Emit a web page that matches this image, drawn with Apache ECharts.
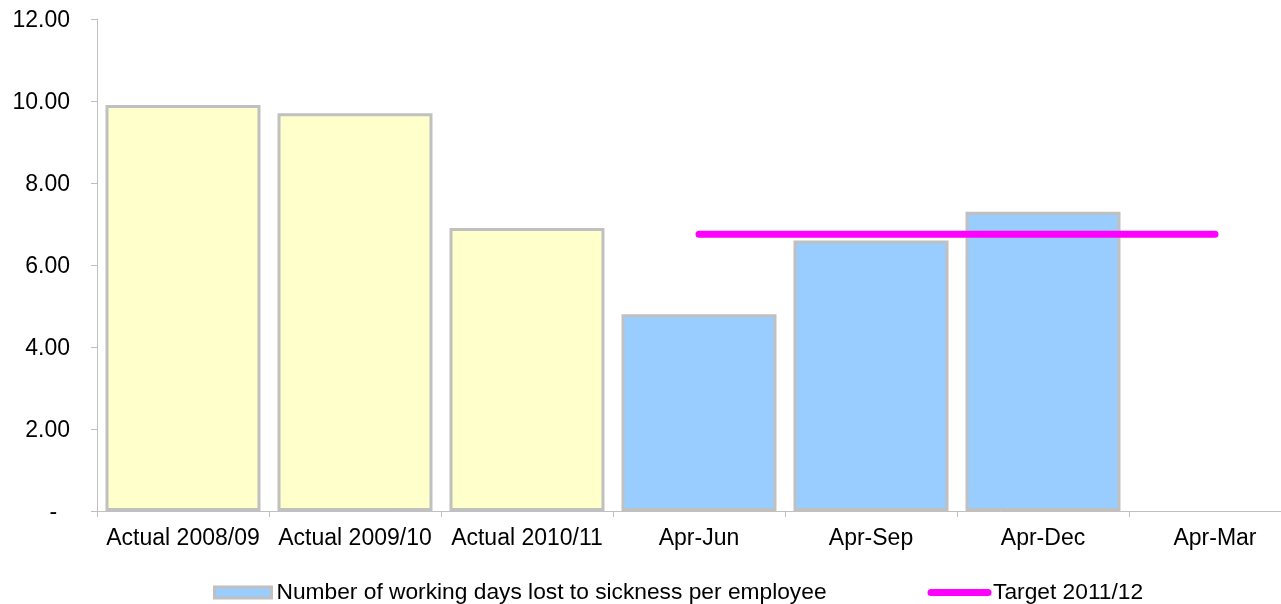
<!DOCTYPE html>
<html>
<head>
<meta charset="utf-8">
<script src="https://cdn.jsdelivr.net/npm/echarts@6/dist/echarts.min.js"></script>
<style>
  html, body { margin: 0; padding: 0; background: #ffffff; overflow: hidden; }
  /* the plot area runs a little past the visible right edge */
  #chart { width: 1301px; height: 604px; }
</style>
</head>
<body>
<div id="chart"></div>
<script>
// Sickness absence: working days lost per employee
const categories = ['Actual 2008/09', 'Actual 2009/10', 'Actual 2010/11', 'Apr-Jun', 'Apr-Sep', 'Apr-Dec', 'Apr-Mar'];
const daysLost = [9.9, 9.7, 6.9, 4.8, 6.6, 7.3, null];
const target = [null, null, null, 6.75, 6.75, 6.75, 6.75];
const actualCount = 3; // first three bars are prior-year actuals
const yTicks = { min: 0, max: 12, interval: 2 };

const barName = 'Number of working days lost to sickness per employee';
const lineName = 'Target 2011/12';

const FONT = "'Liberation Sans', Arial, sans-serif";
const AXIS_GREY = '#c0c0c0';
const YELLOW = '#ffffcc';
const BLUE = '#99ccff';
const MAGENTA = '#ff00ff';

const barData = daysLost.map((v, i) => (
  i < actualCount ? { value: v, itemStyle: { color: YELLOW } } : { value: v }
));

const chart = echarts.init(document.getElementById('chart'), null, { renderer: 'canvas' });

chart.setOption({
  animation: false,
  backgroundColor: '#ffffff',
  textStyle: { fontFamily: FONT, color: '#000' },
  grid: { left: 97, top: 19, right: 0, bottom: 93, containLabel: false },
  legend: {
    left: 208,
    top: 576,
    itemGap: 101,
    itemWidth: 57,
    itemHeight: 11,
    textStyle: { fontFamily: FONT, fontSize: 22.75, color: '#000' },
    data: [
      { name: barName, icon: 'rect', itemStyle: { color: BLUE, borderColor: AXIS_GREY, borderWidth: 3 } },
      {
        name: lineName,
        lineStyle: { color: MAGENTA, width: 7, cap: 'round' },
        itemStyle: { color: 'rgba(0,0,0,0)', borderWidth: 0, opacity: 0 }
      }
    ]
  },
  xAxis: {
    type: 'category',
    data: categories,
    axisLine: { lineStyle: { color: AXIS_GREY, width: 1 } },
    axisTick: { show: true, length: 6, lineStyle: { color: AXIS_GREY } },
    axisLabel: { margin: 16, fontFamily: FONT, fontSize: 23, color: '#000', interval: 0 },
    splitLine: { show: false }
  },
  yAxis: {
    type: 'value',
    min: yTicks.min,
    max: yTicks.max,
    interval: yTicks.interval,
    axisLine: { show: true, lineStyle: { color: AXIS_GREY, width: 1 } },
    axisTick: { show: true, length: 6, lineStyle: { color: AXIS_GREY } },
    axisLabel: {
      margin: 27,
      color: '#000',
      formatter: v => '{t|' + (v === 0 ? '-  ' : v.toFixed(2)) + '}',
      rich: {
        t: { fontFamily: FONT, fontSize: 23, color: '#000', padding: [4, 0, 0, 0] }
      }
    },
    splitLine: { show: false }
  },
  series: [
    {
      name: barName,
      type: 'bar',
      data: barData,
      barCategoryGap: '9.9%',
      itemStyle: { color: BLUE, borderColor: AXIS_GREY, borderWidth: 3 }
    },
    {
      name: lineName,
      type: 'line',
      data: target,
      symbol: 'none',
      connectNulls: false,
      lineStyle: { color: MAGENTA, width: 7, cap: 'round' },
      itemStyle: { color: MAGENTA },
      z: 5
    }
  ]
});
</script>
</body>
</html>
